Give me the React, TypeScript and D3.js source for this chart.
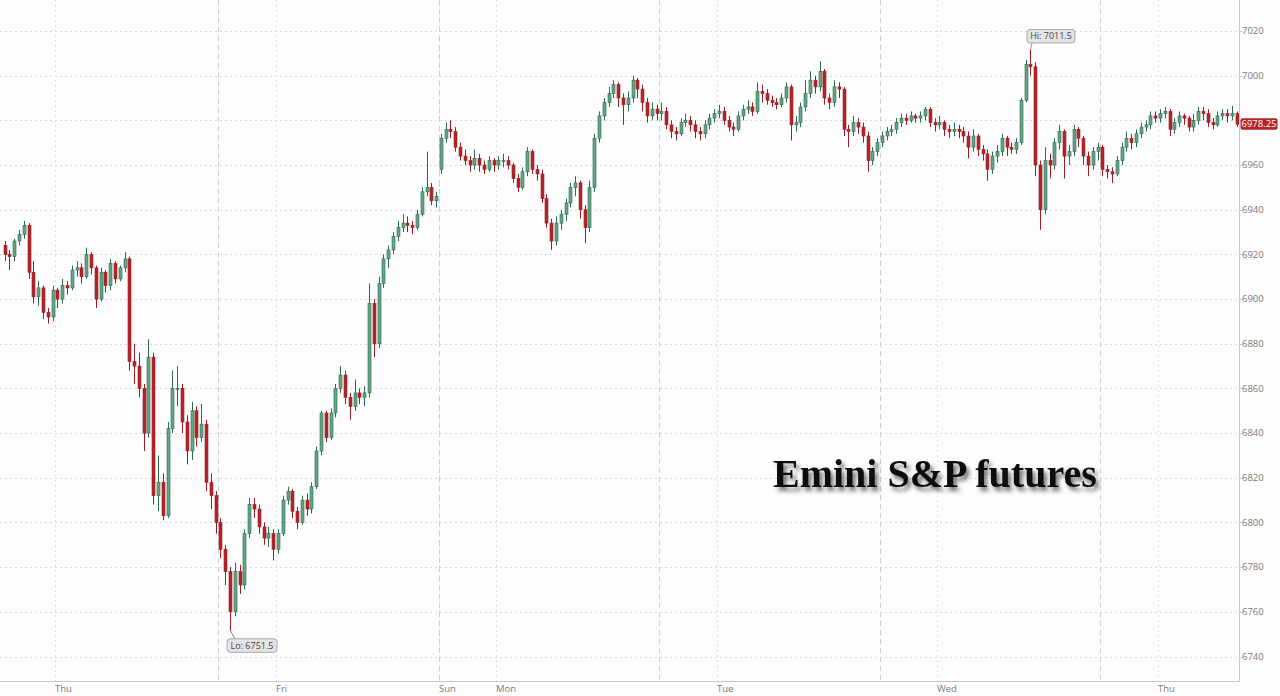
import * as d3 from 'd3';

// 30-min bars, one session = 46 bars
const closes = [
  6920, 6919, 6926, 6929, 6933, 6912, 6901, 6905, 6894, 6892,
  6904, 6900, 6906, 6905, 6913, 6914, 6910, 6920, 6914, 6900,
  6912, 6906, 6916, 6909, 6914, 6918, 6872, 6870, 6860, 6840,
  6874, 6812, 6818, 6803, 6842, 6860, 6860, 6845, 6832, 6850,
  6838, 6844, 6818, 6812, 6800, 6788, 6778, 6760, 6778, 6772,
  6795, 6808, 6806, 6798, 6793, 6795, 6788, 6795, 6810, 6814,
  6805, 6800, 6810, 6806, 6816, 6832, 6849, 6838, 6849, 6860,
  6866, 6856, 6852, 6858, 6856, 6858, 6898, 6880, 6907, 6918,
  6922, 6928, 6932, 6934, 6933, 6932, 6938, 6948, 6950, 6944,
  6946, 6972, 6976, 6975, 6968, 6964, 6962, 6960, 6963, 6960,
  6958, 6962, 6960, 6962, 6962, 6960, 6954, 6950, 6957, 6966,
  6958, 6956, 6945, 6934, 6926, 6934, 6938, 6943, 6950, 6952,
  6940, 6932, 6950, 6972, 6982, 6988, 6992, 6996, 6990, 6987,
  6990, 6998, 6994, 6988, 6982, 6985, 6983, 6984, 6978, 6975,
  6974, 6979, 6980, 6978, 6975, 6974, 6978, 6981, 6983, 6984,
  6980, 6977, 6976, 6982, 6985, 6986, 6984, 6993, 6992, 6989,
  6988, 6987, 6990, 6995, 6978, 6979, 6986, 6992, 6998, 6995,
  7002, 6990, 6988, 6995, 6994, 6976, 6975, 6979, 6977, 6973,
  6962, 6966, 6970, 6973, 6975, 6976, 6979, 6981, 6980, 6982,
  6981, 6982, 6985, 6979, 6978, 6979, 6976, 6975, 6976, 6975,
  6973, 6968, 6973, 6967, 6965, 6958, 6964, 6966, 6972, 6968,
  6967, 6970, 6989, 7005, 7004, 6960, 6940, 6962, 6960, 6970,
  6975, 6964, 6966, 6976, 6972, 6964, 6960, 6966, 6968, 6958,
  6957, 6956, 6962, 6968, 6972, 6970, 6974, 6977, 6978, 6982,
  6981, 6983, 6984, 6976, 6979, 6982, 6981, 6977, 6980, 6984,
  6983, 6979, 6978, 6982, 6983, 6982, 6983, 6978.25,
];

const highs = [
  6926, 6922, 6927, 6931, 6935, 6934, 6917, 6908, 6906, 6896,
  6906, 6905, 6909, 6908, 6915, 6917, 6916, 6923, 6921, 6915,
  6914, 6913, 6918, 6917, 6915, 6921, 6919, 6880, 6876, 6862,
  6882, 6876, 6830, 6822, 6845, 6868, 6870, 6862, 6848, 6854,
  6852, 6853, 6846, 6822, 6814, 6802, 6790, 6780, 6782, 6781,
  6797, 6811, 6811, 6808, 6800, 6798, 6797, 6797, 6812, 6816,
  6815, 6807, 6812, 6813, 6818, 6834, 6850, 6850, 6851, 6862,
  6870, 6868, 6858, 6864, 6860, 6861, 6907, 6900, 6910, 6920,
  6924, 6930, 6935, 6938, 6937, 6935, 6940, 6950, 6966, 6952,
  6948, 6974, 6979, 6980, 6977, 6970, 6967, 6964, 6967, 6965,
  6962, 6964, 6963, 6964, 6965, 6964, 6961, 6956, 6959, 6968,
  6967, 6960, 6958, 6947, 6936, 6937, 6940, 6945, 6952, 6955,
  6953, 6942, 6953, 6974, 6984, 6990, 6995, 6998, 6997, 6992,
  6993, 7000, 6999, 6996, 6990, 6988, 6987, 6988, 6986, 6980,
  6977, 6981, 6983, 6982, 6980, 6977, 6980, 6983, 6985, 6987,
  6986, 6982, 6979, 6984, 6987, 6989, 6988, 6997, 6996, 6994,
  6991, 6990, 6992, 6997, 6996, 6982, 6988, 6998, 7002, 7000,
  7006.5, 7003, 6992, 6998, 6997, 6995, 6978, 6982, 6981, 6979,
  6975, 6968, 6972, 6975, 6977, 6978, 6981, 6983, 6983, 6984,
  6983, 6984, 6986, 6986, 6981, 6982, 6980, 6978, 6979, 6978,
  6977, 6975, 6976, 6974, 6969, 6967, 6966, 6969, 6974, 6973,
  6970, 6972, 6990, 7007, 7011.5, 7006, 6962, 6968, 6965, 6972,
  6978, 6976, 6969, 6978, 6977, 6973, 6966, 6968, 6970, 6969,
  6960, 6959, 6964, 6970, 6975, 6974, 6976, 6979, 6980, 6984,
  6984, 6985, 6986, 6985, 6981, 6984, 6983, 6982, 6983, 6986,
  6986, 6985, 6981, 6984, 6985, 6985, 6986.5, 6984,
];

const lows = [
  6917, 6913, 6917, 6924, 6927, 6909, 6898, 6897, 6891, 6889,
  6890, 6896, 6898, 6902, 6904, 6910, 6907, 6909, 6911, 6896,
  6899, 6903, 6904, 6907, 6908, 6912, 6868, 6862, 6856, 6832,
  6838, 6808, 6805, 6801, 6802, 6840, 6852, 6840, 6826, 6828,
  6834, 6836, 6814, 6806, 6795, 6784, 6772, 6751.5, 6758, 6768,
  6770, 6793, 6802, 6795, 6790, 6789, 6783, 6786, 6794, 6808,
  6802, 6797, 6799, 6803, 6804, 6815, 6830, 6836, 6837, 6847,
  6858, 6853, 6846, 6850, 6853, 6852, 6856, 6874, 6878, 6905,
  6914, 6920, 6926, 6930, 6930, 6929, 6931, 6937, 6946, 6942,
  6941, 6956, 6970, 6972, 6966, 6962, 6960, 6957, 6958, 6957,
  6956, 6957, 6957, 6958, 6959, 6958, 6952, 6948, 6949, 6955,
  6956, 6953, 6943, 6932, 6922, 6924, 6931, 6935, 6941, 6946,
  6936, 6925, 6930, 6948, 6970, 6980, 6986, 6990, 6986, 6978,
  6984, 6988, 6990, 6984, 6979, 6980, 6980, 6980, 6976, 6972,
  6971, 6973, 6977, 6975, 6972, 6971, 6972, 6976, 6979, 6981,
  6978, 6975, 6973, 6975, 6980, 6983, 6982, 6983, 6988, 6987,
  6986, 6985, 6986, 6988, 6971, 6975, 6977, 6984, 6990, 6992,
  6993, 6987, 6985, 6986, 6990, 6973, 6968, 6973, 6974, 6970,
  6957, 6960, 6964, 6968, 6971, 6973, 6974, 6977, 6978, 6979,
  6979, 6979, 6980, 6977, 6975, 6976, 6973, 6972, 6973, 6972,
  6970, 6963, 6966, 6964, 6962, 6953, 6956, 6961, 6964, 6964,
  6965, 6965, 6969, 6988, 7000, 6955, 6931, 6938, 6954, 6958,
  6967, 6954, 6960, 6964, 6968, 6960, 6955, 6958, 6962, 6955,
  6954, 6952, 6955, 6960, 6966, 6967, 6968, 6972, 6975, 6976,
  6979, 6979, 6981, 6973, 6974, 6977, 6978, 6975, 6975, 6978,
  6980, 6977, 6976, 6977, 6980, 6979, 6980, 6977,
];

// opens follow previous close, except at these bars (first bar / weekend gap)
const gapOpens = new Map<number, number>([[0, 6924], [91, 6958]]);

const sessionBreaks = [44.5, 90.5, 136.5, 182.5, 228.5];
const dayLabels = ['Thu', 'Fri', 'Sun', 'Mon', 'Tue', 'Wed', 'Thu'];
const dayTickAt = [10.5, 56.5, 90.5, 102.5, 148.5, 194.5, 240.5];
const priceTicks = [6740, 6760, 6780, 6800, 6820, 6840, 6860, 6880, 6900, 6920, 6940, 6960, 6980, 7000, 7020];

const W = 1280;
const H = 696;
const axisX = 1239.5;
const axisY = 681.5;

const GREEN = '#64a686';
const GREEN_LINE = '#2e6a4e';
const RED = '#b3242a';
const RED_LINE = '#9c1e23';
const FONT = '"Open Sans", "Noto Sans", sans-serif';

export default function App() {
  const x = d3.scaleLinear().domain([44.5, 228.5]).range([218, 1100]);
  const y = d3.scaleLinear().domain([6740, 7020]).range([656.5, 31]);

  const bars = closes.map((c, i) => {
    const o = gapOpens.has(i) ? (gapOpens.get(i) as number) : closes[i - 1];
    return { i, o, c, h: highs[i], l: lows[i], up: c >= o };
  });

  const hiIdx = d3.maxIndex(highs);
  const loIdx = d3.minIndex(lows);
  const last = closes[closes.length - 1];

  const hiX = Math.round(x(hiIdx));
  const hiY = y(highs[hiIdx]);
  const loX = Math.round(x(loIdx));
  const loY = y(lows[loIdx]);

  return (
    <div style={{ position: 'absolute', left: 0, top: 0 }}>
      <svg width={W} height={H} style={{ display: 'block', background: '#fdfdfd' }}>
        <defs>
          <filter id="ttlShadow" x="-10%" y="-30%" width="130%" height="180%">
            <feDropShadow dx="3" dy="4" stdDeviation="2.2" floodColor="#000" floodOpacity="0.55" />
          </filter>
        </defs>

        {/* horizontal grid */}
        {priceTicks.map((p) => (
          <g key={p}>
            <line x1={0} x2={axisX} y1={Math.round(y(p)) + 0.5} y2={Math.round(y(p)) + 0.5}
              stroke="#d9d9d9" strokeDasharray="2,3" />
            <line x1={axisX} x2={axisX + 3} y1={Math.round(y(p)) + 0.5} y2={Math.round(y(p)) + 0.5} stroke="#c8c8c8" />
            {/* the last-price tag hides the label it sits on */}
            {Math.abs(y(p) - y(last)) > 10 && (
              <text x={1242} y={y(p)} dy="0.35em" fontSize={9.5} fill="#7a7a7a" fontFamily={FONT}>{p}</text>
            )}
          </g>
        ))}

        {/* day grid (dotted) */}
        {dayTickAt.map((t, k) => (
          <line key={'d' + k} x1={Math.round(x(t)) + 0.5} x2={Math.round(x(t)) + 0.5} y1={0} y2={axisY}
            stroke="#e0e0e0" strokeDasharray="2,3" />
        ))}

        {/* session breaks (dashed) */}
        {sessionBreaks.map((t) => (
          <line key={'s' + t} x1={Math.round(x(t)) + 0.5} x2={Math.round(x(t)) + 0.5} y1={0} y2={axisY}
            stroke="#cfcfcf" strokeDasharray="5,4" />
        ))}

        {/* title */}
        <text x={773} y={487} fontFamily='"Liberation Serif", "Times New Roman", serif' fontWeight="bold"
          fontSize={40} fill="#111" filter="url(#ttlShadow)">Emini S&amp;P futures</text>

        {/* candles */}
        {bars.map((b) => {
          const cx = Math.round(x(b.i)) + 0.5;
          const top = y(Math.max(b.o, b.c));
          const bot = y(Math.min(b.o, b.c));
          return (
            <g key={b.i}>
              <line x1={cx} x2={cx} y1={y(b.h)} y2={y(b.l)} stroke={b.up ? GREEN_LINE : RED_LINE} strokeWidth={1} />
              <rect x={cx - 1.5} y={top} width={3} height={Math.max(1, bot - top)}
                fill={b.up ? GREEN : RED} stroke={b.up ? GREEN_LINE : RED_LINE} strokeWidth={0.6} />
            </g>
          );
        })}

        {/* hi / lo callouts */}
        <line x1={hiX + 0.5} y1={hiY} x2={hiX + 2} y2={hiY - 7} stroke="#c98a8c" />
        <rect x={hiX - 3} y={hiY - 20.5} width={48} height={13.5} rx={3} fill="#e4e4e4" stroke="#a9a9a9" />
        <text x={hiX + 21} y={hiY - 13.7} dy="0.35em" textAnchor="middle" fontSize={9} fill="#444" fontFamily={FONT}>
          Hi: {highs[hiIdx]}
        </text>

        <line x1={loX + 0.5} y1={loY} x2={loX + 5} y2={loY + 8} stroke="#5e8f78" />
        <rect x={loX - 3} y={loY + 8} width={50} height={13.5} rx={3} fill="#e4e4e4" stroke="#a9a9a9" />
        <text x={loX + 22} y={loY + 14.8} dy="0.35em" textAnchor="middle" fontSize={9} fill="#444" fontFamily={FONT}>
          Lo: {lows[loIdx]}
        </text>

        {/* axes */}
        <line x1={axisX} x2={axisX} y1={0} y2={axisY} stroke="#c8c8c8" />
        <line x1={0} x2={axisX} y1={axisY} y2={axisY} stroke="#c8c8c8" />
        {dayTickAt.map((t, k) => (
          <text key={'l' + k} x={Math.round(x(t))} y={692} fontSize={9.5} fill="#7a7a7a" fontFamily={FONT}>
            {dayLabels[k]}
          </text>
        ))}

        {/* last price tag */}
        <rect x={1240.5} y={y(last) - 6} width={37} height={11.5} rx={2} fill={RED} />
        <text x={1259} y={y(last) - 0.2} dy="0.35em" textAnchor="middle" fontSize={9.5} fill="#fff" fontFamily={FONT}>
          {last.toFixed(2)}
        </text>
      </svg>
    </div>
  );
}
